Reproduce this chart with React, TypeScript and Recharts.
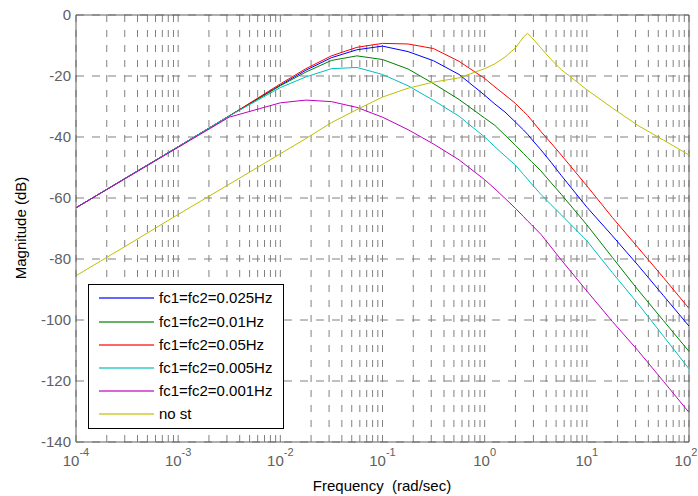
import { LineChart, Line, XAxis, YAxis, CartesianGrid, ReferenceLine } from "recharts";

// frequency points (rad/sec), shared by every curve
const freqs = [
  0.0001, 0.000316, 0.001, 0.00316, 0.01, 0.0178, 0.0316, 0.0562, 0.1, 0.178, 0.316, 0.562, 1, 1.26, 1.58, 2.0,
  2.4, 2.63, 2.88, 3.55, 4.47, 5.62, 10, 17.8, 31.6, 56.2, 100,
];

// magnitude (dB)
const fc025 = [
  -63.2, -53.2, -43.2, -33.1, -23.0, -18.1, -14.0, -11.4, -10.2, -12.0, -15.0, -19.5, -26.3, -29.2, -31.8, -35.1,
  -37.7, -39.1, -40.7, -44.2, -48.3, -52.6, -63.0, -72.4, -82.0, -92.0, -102.0,
];
const fc01 = [
  -63.2, -53.2, -43.2, -33.1, -23.2, -18.7, -14.9, -13.4, -14.6, -17.7, -22.5, -27.7, -33.8, -36.2, -39.4, -42.7,
  -45.4, -46.8, -48.1, -51.1, -55.0, -58.8, -68.8, -79.5, -90.1, -100.2, -110.3,
];
const fc05 = [
  -63.2, -53.2, -43.2, -33.1, -22.6, -17.6, -13.4, -10.6, -9.3, -9.5, -11.0, -15.2, -20.8, -23.6, -26.2, -29.0,
  -31.6, -32.9, -34.5, -38.2, -42.0, -45.9, -56.0, -66.4, -76.2, -86.1, -96.2,
];
const fc005 = [
  -63.2, -53.2, -43.2, -33.1, -23.8, -20.3, -17.6, -17.2, -19.5, -23.2, -28.0, -33.2, -40.0, -43.2, -46.2, -49.2,
  -52.3, -53.8, -55.4, -58.8, -62.2, -65.5, -74.0, -84.5, -94.6, -105.3, -116.0,
];
const fc001 = [
  -63.2, -53.3, -43.4, -33.5, -28.8, -27.9, -28.4, -30.3, -33.5, -37.6, -42.3, -47.5, -54.0, -57.0, -60.1, -63.4,
  -66.1, -67.5, -68.8, -71.9, -76.1, -80.3, -90.5, -100.5, -110.0, -120.1, -130.3,
];
const noSt = [
  -85.5, -75.5, -65.4, -55.5, -45.5, -40.5, -35.3, -31.0, -26.9, -24.0, -22.0, -20.6, -17.6, -16.0, -13.8, -10.8,
  -7.2, -6.0, -7.3, -10.8, -14.6, -17.9, -24.5, -30.5, -36.2, -41.0, -45.9,
];

const seriesNames = ["fc1=fc2=0.025Hz", "fc1=fc2=0.01Hz", "fc1=fc2=0.05Hz", "fc1=fc2=0.005Hz", "fc1=fc2=0.001Hz", "no st"];
const seriesKeys = ["fc025", "fc01", "fc05", "fc005", "fc001", "noSt"];
const seriesColors = ["#0000ff", "#008000", "#ff0000", "#00bfbf", "#bf00bf", "#bfbf00"];
const seriesValues = [fc025, fc01, fc05, fc005, fc001, noSt];

const xTicks = [0.0001, 0.001, 0.01, 0.1, 1, 10, 100];
const xTickExps = ["-4", "-3", "-2", "-1", "0", "1", "2"];
const yTicks = [0, -20, -40, -60, -80, -100, -120, -140];

const data = freqs.map((f, i) => {
  const row: Record<string, number> = { f };
  seriesKeys.forEach((k, j) => {
    row[k] = seriesValues[j][i];
  });
  return row;
});

// every decade and its 2..9 minor lines get a dashed grid line
const minorGrid: number[] = [];
xTicks.slice(0, -1).forEach((d) => {
  for (let k = 1; k <= 9; k++) minorGrid.push(d * k);
});
minorGrid.push(100);

const font = "'Liberation Sans', Arial, Helvetica, sans-serif";
const gridColor = "#808080";
const axisColor = "#606060";

function PowerTick(props: any) {
  const { x, y, index } = props;
  return (
    <text x={x} y={y + 24} textAnchor="middle" fill={axisColor} fontSize={15} fontFamily={font}>
      10
      <tspan dy={-10} fontSize={11}>
        {xTickExps[index]}
      </tspan>
    </text>
  );
}

function XTitle() {
  return (
    <text x={382} y={491} textAnchor="middle" fill="#000" fontSize={15} fontFamily={font} style={{ whiteSpace: "pre" }}>
      {"Frequency  (rad/sec)"}
    </text>
  );
}

function YTitle() {
  return (
    <text
      x={26}
      y={228}
      transform="rotate(-90 26 228)"
      textAnchor="middle"
      fill="#000"
      fontSize={15}
      fontFamily={font}
    >
      Magnitude (dB)
    </text>
  );
}

function LegendBox() {
  return (
    <div
      style={{
        position: "absolute",
        left: 88,
        top: 284,
        width: 196,
        height: 145,
        boxSizing: "border-box",
        border: "1px solid #000",
        background: "#fff",
        fontFamily: font,
        fontSize: 15,
        color: "#000",
      }}
    >
      {seriesNames.map((name, i) => (
        <div key={name} style={{ position: "absolute", left: 0, top: 13.3 + i * 23.2 - 9, height: 18, width: 190 }}>
          <div
            style={{
              position: "absolute",
              left: 10,
              top: 8,
              width: 55,
              height: 2,
              background: seriesColors[i],
              opacity: 0.6,
            }}
          />
          <span style={{ position: "absolute", left: 70, top: 0, lineHeight: "18px", whiteSpace: "nowrap" }}>{name}</span>
        </div>
      ))}
    </div>
  );
}

export default function App() {
  return (
    <div style={{ position: "absolute", left: 0, top: 0, width: 698, height: 496, background: "#fff" }}>
      <LineChart width={698} height={496} data={data} margin={{ top: 15, right: 9, bottom: 0, left: 16 }}>
        <CartesianGrid vertical={false} stroke={gridColor} strokeDasharray="8 8" />
        {minorGrid.map((v) => (
          <ReferenceLine key={v} x={v} stroke={gridColor} strokeDasharray="7 8" />
        ))}
        <ReferenceLine y={0} stroke={axisColor} />
        <ReferenceLine x={100} stroke={axisColor} />
        <XAxis
          dataKey="f"
          type="number"
          scale="log"
          domain={[0.0001, 100]}
          ticks={xTicks}
          allowDataOverflow
          height={54}
          tickLine={false}
          tickSize={0}
          tickMargin={0}
          stroke={axisColor}
          tick={<PowerTick />}
          label={<XTitle />}
        />
        <YAxis
          type="number"
          domain={[-140, 0]}
          ticks={yTicks}
          width={60}
          tickLine={false}
          tickSize={0}
          tickMargin={5}
          stroke={axisColor}
          tick={{ fill: axisColor, fontSize: 15, fontFamily: font }}
          label={<YTitle />}
        />
        {seriesKeys.map((k, i) => (
          <Line
            key={k}
            dataKey={k}
            name={seriesNames[i]}
            stroke={seriesColors[i]}
            strokeWidth={1}
            dot={false}
            type="linear"
            isAnimationActive={false}
          />
        ))}
      </LineChart>
      <LegendBox />
    </div>
  );
}
